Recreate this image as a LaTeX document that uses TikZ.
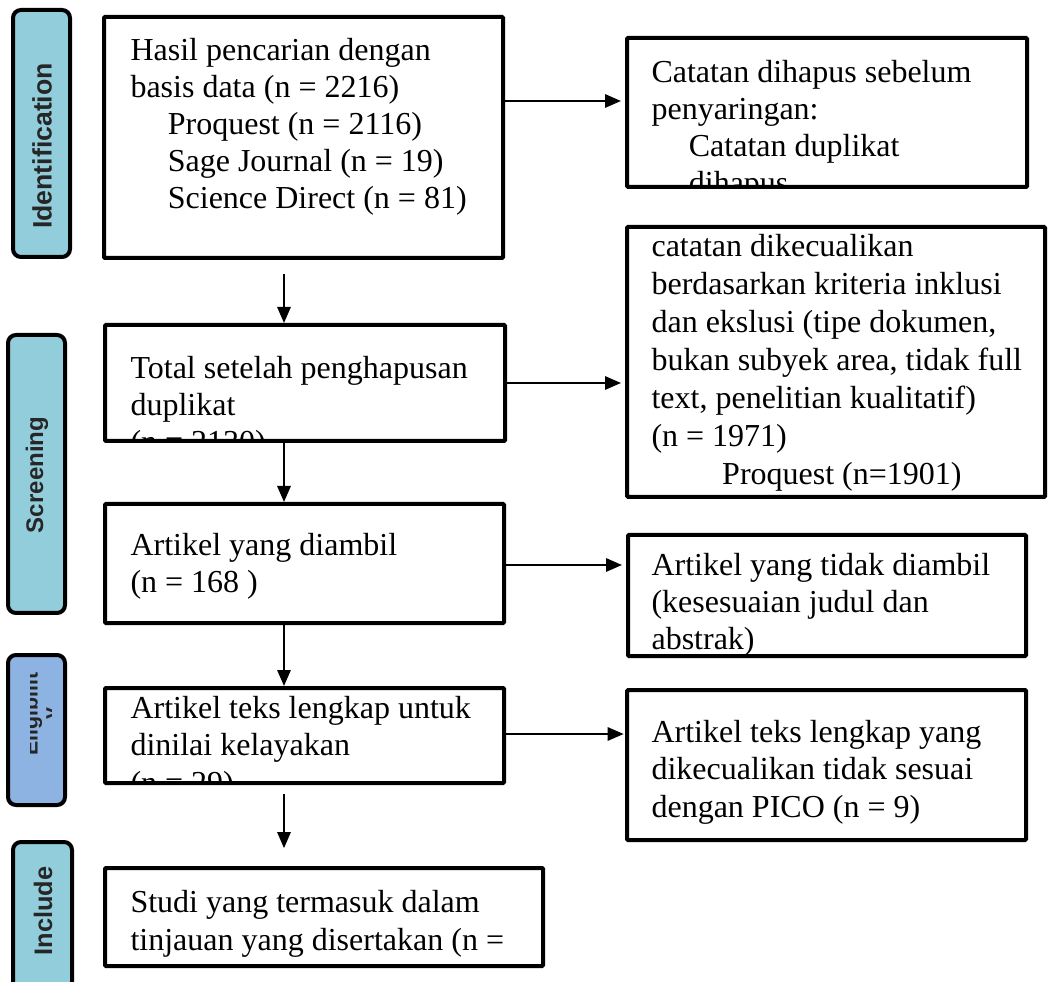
\documentclass[tikz,border=0pt]{standalone}
\usepackage{fontspec}
\setmainfont{Liberation Serif}
\setsansfont{Liberation Sans}
\usetikzlibrary{arrows.meta,fit,calc}
\definecolor{phaseblue}{HTML}{92CDDC}
\definecolor{eligblue}{HTML}{8DB3E2}

\begin{document}
\begin{tikzpicture}[x=0.375pt, y=-0.375pt, >={Triangle[length=6pt,width=5pt]},
	box/.style={draw, line width=1.5pt, fill=white, inner sep=0pt, rounded corners=0.4pt},
	phase/.style={draw, line width=1.5pt, fill=phaseblue, inner sep=0pt, rounded corners=3pt},
	txt/.style={anchor=base west, align=left, inner sep=0pt, font=\fontsize{12}{13.9}\selectfont},
	lbl/.style={rotate=90, inner sep=0pt, text=black!85, font=\sffamily\bfseries\fontsize{10}{12}\selectfont},
	arr/.style={->, line width=0.75pt}]

	\useasboundingbox (0,0) rectangle (1048,982);

	\node[phase, fit={(13,10) (70,257)}] (ident) {};
	\node[lbl] (identtext) at (42,146) {Identification};
	\node[phase, fit={(8,335) (65,613)}] (screen) {};
	\node[lbl, font=\sffamily\bfseries\fontsize{9}{11}\selectfont] (screentext) at (37,475) {Screening};
	\node[phase, fill=eligblue, fit={(8,655) (65,805)}] (elig) {};
	\begin{scope}
		\clip (30,658) rectangle (51,802);
		\node[lbl, align=center, font=\sffamily\bfseries\fontsize{8}{7.5}\selectfont] (eligtext) at (42,714) {Eligibilit\\y};
	\end{scope}
	\node[phase, fit={(13,842) (72,992)}] (incl) {};
	\node[lbl, font=\sffamily\bfseries\fontsize{9.5}{11}\selectfont] (incltext) at (43,911) {Include};

	\node[box, fit={(104,17) (503,258)}] (box1) {};
	\node[box, fit={(627,38) (1027,187)}] (right1) {};
	\node[box, fit={(105,325) (505,441)}] (box2) {};
	\node[box, fit={(627,227) (1045,497)}] (right2) {};
	\node[box, fit={(105,504) (504,623)}] (box3) {};
	\node[box, fit={(628,535) (1026,656)}] (right3) {};
	\node[box, fit={(105,688) (504,783)}] (box4) {};
	\node[box, fit={(627,690) (1026,840)}] (right4) {};
	\node[box, fit={(105,868) (543,966)}] (box5) {};

	% text is anchored on the baseline of its last line
	\begin{scope}
		\clip ($(box1.north west)+(2,2)$) rectangle ($(box1.south east)+(-2,-2)$);
		\node[txt] (t1) at (130,209) {Hasil pencarian dengan\\ basis data (n = 2216)\\
			\hspace*{14pt}Proquest (n = 2116)\\ \hspace*{14pt}Sage Journal (n = 19)\\
			\hspace*{14pt}Science Direct (n = 81)};
	\end{scope}
	\begin{scope}
		\clip ($(right1.north west)+(2,2)$) rectangle ($(right1.south east)+(-2,-2)$);
		\node[txt] (t2) at (651,194) {Catatan dihapus sebelum\\ penyaringan:\\
			\hspace*{14pt}Catatan duplikat\\ \hspace*{14pt}dihapus};
	\end{scope}
	\begin{scope}
		\clip ($(box2.north west)+(2,2)$) rectangle ($(box2.south east)+(-2,-2)$);
		\node[txt] (t3) at (130,453) {Total setelah penghapusan\\ duplikat\\ (n = 2130)};
	\end{scope}
	\begin{scope}
		\clip ($(right2.north west)+(2,2)$) rectangle ($(right2.south east)+(-2,-2)$);
		\node[txt, font=\fontsize{12}{14.25}\selectfont] (t4) at (651,485) {catatan dikecualikan\\
			berdasarkan kriteria inklusi\\ dan ekslusi (tipe dokumen,\\ bukan subyek area, tidak full\\
			text, penelitian kualitatif)\\ (n = 1971)\\ \hspace*{26.5pt}Proquest (n=1901)};
	\end{scope}
	\begin{scope}
		\clip ($(box3.north west)+(2,2)$) rectangle ($(box3.south east)+(-2,-2)$);
		\node[txt] (t5) at (130,593) {Artikel yang diambil\\ (n = 168 )};
	\end{scope}
	\begin{scope}
		\clip ($(right3.north west)+(2,2)$) rectangle ($(right3.south east)+(-2,-2)$);
		\node[txt] (t6) at (651,650) {Artikel yang tidak diambil\\ (kesesuaian judul dan\\ abstrak)};
	\end{scope}
	\begin{scope}
		\clip ($(box4.north west)+(2,2)$) rectangle ($(box4.south east)+(-2,-2)$);
		\node[txt] (t7) at (130,793) {Artikel teks lengkap untuk\\ dinilai kelayakan\\ (n = 29)};
	\end{scope}
	\begin{scope}
		\clip ($(right4.north west)+(2,2)$) rectangle ($(right4.south east)+(-2,-2)$);
		\node[txt] (t8) at (651,817) {Artikel teks lengkap yang\\ dikecualikan tidak sesuai\\ dengan PICO (n = 9)};
	\end{scope}
	\begin{scope}
		\clip ($(box5.north west)+(2,2)$) rectangle ($(box5.south east)+(-2,-2)$);
		\node[txt] (t9) at (130,950) {Studi yang termasuk dalam\\ tinjauan yang disertakan (n =};
	\end{scope}

	\coordinate (col) at (284,0);
	\draw[arr, shorten >=1.5pt] ($(box1.north east)+(0,86)$) coordinate (a1) -- (a1 -| right1.west);
	\draw[arr, shorten >=1.5pt] ($(box2.north east)+(0,60)$) coordinate (a3) -- (a3 -| right2.west);
	\draw[arr, shorten >=1.5pt] ($(box3.north east)+(0,63)$) coordinate (a5) -- (a5 -| right3.west);
	\draw[arr, shorten >=0.5pt] ($(box4.north east)+(0,48)$) coordinate (a7) -- (a7 -| right4.west);

	\draw[arr, shorten <=5.2pt] (box1.south -| col) -- (box2.north -| col);
	\draw[arr] (box2.south -| col) -- (box3.north -| col);
	\draw[arr] (box3.south -| col) -- (box4.north -| col);
	\draw[arr, shorten <=3.4pt, shorten >=6.7pt] (box4.south -| col) -- (box5.north -| col);
\end{tikzpicture}
\end{document}
